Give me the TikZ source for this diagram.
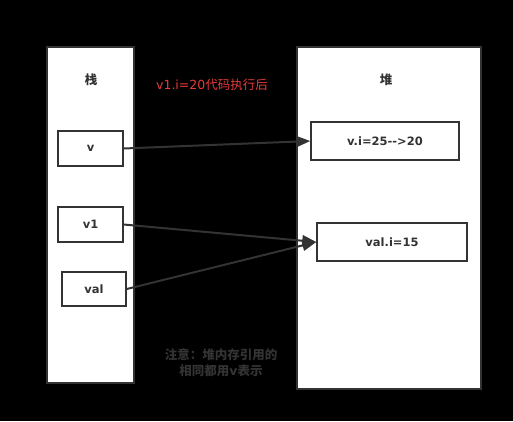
\documentclass[tikz,border=0pt]{standalone}
\usepackage{fontspec}
\setmainfont{DejaVu Sans}[Ligatures=NoCommon]
\newfontfamily\cjk{Noto Sans CJK SC}
\usetikzlibrary{arrows.meta}
\definecolor{ink}{HTML}{333333}
\definecolor{redtxt}{HTML}{E83A3A}
\tikzset{
  panel/.style={draw=ink, line width=1.5pt, fill=white},
  cell/.style={draw=ink, line width=1.5pt, fill=white, font=\fontsize{11.5}{14}\selectfont\bfseries, text=ink, inner sep=0pt},
  link/.style={draw=ink, line width=2pt, -{Triangle[length=14pt,width=11pt]}},
  title/.style={font=\fontsize{12.5}{14}\selectfont\cjk\bfseries, text=ink}
}
\begin{document}
\begin{tikzpicture}[x=1pt,y=-1pt]
\fill[black] (0,0) rectangle (513,421);
\useasboundingbox (0,0) rectangle (513,421);
\draw[panel] (47,47) rectangle (134,383);
\draw[panel] (297,47) rectangle (481,389);
\node[title] (stack) at (91,80) {栈};
\node[title] (heap) at (386,80) {堆};
\node[font=\fontsize{12.5}{14}\selectfont, text=redtxt, inner sep=0pt] (caption) at (212,85) {v1.i=20{\cjk 代码执行后}};
\node[cell, minimum width=65pt, minimum height=35pt] (v) at (90.5,148.5) {v};
\node[cell, minimum width=65pt, minimum height=35pt] (v1) at (90.5,224.5) {v1};
\node[cell, minimum width=64pt, minimum height=34pt] (val) at (94,289) {val};
\node[cell, minimum width=148pt, minimum height=38pt] (vi) at (385,141) {v.i=25-{}-{}>20};
\node[cell, minimum width=150pt, minimum height=38pt] (vali) at (392,242) {val.i=15};
\draw[link] (v.east) -- (vi.west);
\draw[link] (v1.east) -- (vali.west);
\draw[link] (val.east) -- (vali.west);
\node[font=\fontsize{12.5}{16}\selectfont\cjk\bfseries, text=ink, align=center] (note) at (221,363) {注意：堆内存引用的\\相同都用{\fontspec{DejaVu Sans}[BoldFont=DejaVu Sans Bold]\bfseries v}表示};
\end{tikzpicture}
\end{document}
